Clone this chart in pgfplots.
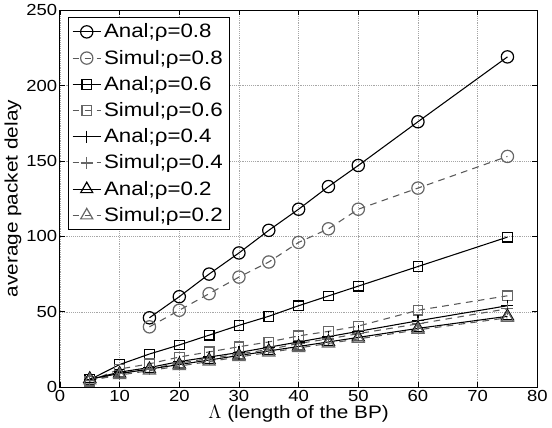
\documentclass[border=0pt]{standalone}
\usepackage{pgfplots}
\pgfplotsset{compat=1.18}
\usepackage{fontspec}
\setmainfont[FakeStretch=1.15]{Liberation Sans}
\begin{document}
\begin{tikzpicture}
\begin{axis}[
  scale only axis,
  width=357pt, height=282pt,
  xmin=0, xmax=80, ymin=0, ymax=250,
  xtick={0,10,...,80}, ytick={0,50,...,250},
  grid=major,
  major grid style={densely dotted, gray!70, line width=0.4pt},
  tick align=inside,
  major tick length=4pt,
  axis line style={line width=0.8pt},
  tick style={line width=0.5pt, black},
  /pgf/number format/assume math mode=true,
  ticklabel style={font=\fontsize{12}{14}\selectfont},
  xticklabel style={yshift=1pt},
  yticklabel style={xshift=1.5pt},
  xlabel={$\Lambda$ (length of the BP)},
  ylabel={average packet delay},
  label style={font=\fontsize{13.5}{15}\selectfont},
  xlabel style={yshift=4pt},
  ylabel style={yshift=-3pt},
  legend cell align=left,
  legend style={at={(0.016,0.981)}, anchor=north west, draw=black, line width=0.8pt,
    font=\fontsize{14.5}{16}\selectfont, row sep=3.6pt, inner xsep=3pt, inner ysep=2.5pt},
  legend image code/.code={\draw[mark repeat=2,mark phase=2] plot coordinates {(0cm,0cm) (0.37cm,0cm) (0.74cm,0cm)};},
]
\pgfplotsset{
  anal/.style={black, line width=0.8pt, mark options={solid, line width=0.9pt}},
  simul/.style={black!65, line width=0.8pt, dash pattern=on 5pt off 4pt, mark options={solid, line width=0.9pt, black!60}},
}
\addplot[anal, mark=o, mark size=4.6pt] coordinates {
(15,46) (20,60) (25,75) (30,89) (35,104) (40,118) (45,133) (50,147) (60,176) (75,219)};
\addlegendentry{Anal;ρ=0.8}
\addplot[simul, mark=o, mark size=4.6pt] coordinates {
(15,40) (20,51) (25,62) (30,73) (35,83) (40,96) (45,105) (50,118) (60,132) (75,153)};
\addlegendentry{Simul;ρ=0.8}
\addplot[anal, mark=square, mark size=3.6pt] coordinates {
(5,5) (10,15) (15,22) (20,28) (25,34.5) (30,41) (35,47) (40,54) (45,60.5) (50,67) (60,80) (75,99.5)};
\addlegendentry{Anal;ρ=0.6}
\addplot[simul, mark=square, mark size=3.6pt] coordinates {
(5,4) (10,12) (15,15.5) (20,20) (25,23.4) (30,26.8) (35,30) (40,34) (45,37) (50,40.5) (60,51) (75,60.6)};
\addlegendentry{Simul;ρ=0.6}
\addplot[anal, mark=+, mark size=4.5pt] coordinates {
(5,5) (10,10) (15,13) (20,17) (25,20) (30,23) (35,26.5) (40,30) (45,33.5) (50,37) (60,44) (75,54)};
\addlegendentry{Anal;ρ=0.4}
\addplot[simul, mark=+, mark size=4.5pt] coordinates {
(5,4.5) (10,9) (15,12) (20,16) (25,19) (30,22) (35,25) (40,29) (45,32) (50,35.5) (60,42) (75,52)};
\addlegendentry{Simul;ρ=0.4}
\addplot[anal, mark=triangle, mark size=5.2pt] coordinates {
(5,5.5) (10,9) (15,12) (20,15) (25,18) (30,21) (35,24) (40,27) (45,30) (50,33) (60,39) (75,47)};
\addlegendentry{Anal;ρ=0.2}
\addplot[simul, mark=triangle, mark size=5.2pt] coordinates {
(5,4.5) (10,8) (15,11) (20,14) (25,17) (30,20) (35,23) (40,26) (45,29) (50,32) (60,38) (75,46)};
\addlegendentry{Simul;ρ=0.2}
\end{axis}
\end{tikzpicture}
\end{document}
